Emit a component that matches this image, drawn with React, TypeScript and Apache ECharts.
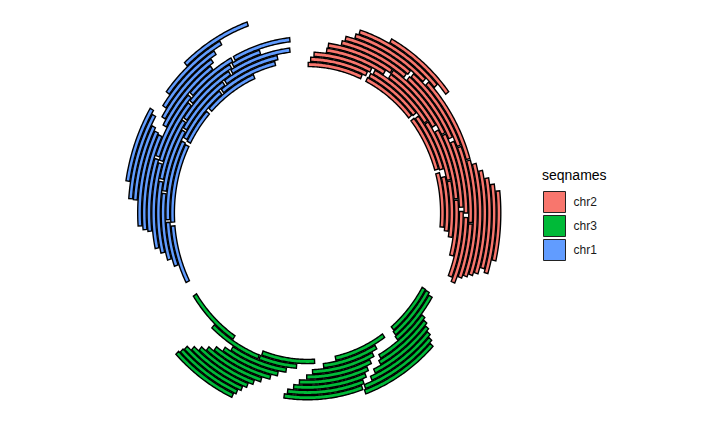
import React, { useEffect, useRef } from "react";
import * as echarts from "echarts";

// ---- data ----
const seqnames = ["chr2", "chr3", "chr1"];
const seqColors = ["#F8766D", "#00BA38", "#619CFF"];
const seqLengths = [117, 117, 117]; // chromosome lengths (Mb)
const chromGap = 3; // gap between chromosomes (Mb)
const legendTitle = "seqnames";

// chr2 ranges (Mb) and stacking levels
const chr2Starts = [0.3, 26, 51, 74.5, 1.3, 26.5, 51.5, 76.5, 2.6, 27.5, 55.5, 78.5, 7.4, 33.5, 60, 85.5, 7.8, 33.5, 62.5, 89.5, 12.5, 39.5, 66, 91.5, 13.5, 40, 68.5, 93.5, 16.6, 45.5, 73.5, 17.6, 75, 28, 77.5, 80, 82, 84];
const chr2Ends = [23.5, 49.5, 73, 95.4, 25, 50, 73.5, 96.7, 26, 55, 78, 98.7, 31, 58, 85, 105, 33, 62, 88, 112, 38, 64.5, 90, 113.4, 38.5, 68, 93, 111, 44, 73, 110, 48, 109, 52, 108, 106, 107, 103];
const chr2Levels = [1, 1, 1, 1, 2, 2, 2, 2, 3, 3, 3, 3, 4, 4, 4, 4, 5, 5, 5, 5, 6, 6, 6, 6, 7, 7, 7, 7, 8, 8, 8, 9, 9, 10, 10, 11, 12, 13];

// chr3
const chr3Starts = [0.5, 25.7, 57, 93, 0.7, 30.7, 64.5, 80.5, 1.6, 33, 68.5, 9, 35, 71.5, 10, 37, 74, 11, 38.5, 77, 12, 40, 79.3, 13, 41, 81, 14, 82.4, 83.5, 84.3];
const chr3Ends = [21, 48, 79.5, 116.5, 21.5, 53.4, 80, 102.5, 22, 58, 91.5, 31, 60.3, 94, 32, 63, 96.8, 35, 65, 99, 37, 67, 101, 40, 68, 103, 40.5, 104.8, 105.2, 105.7];
const chr3Levels = [1, 1, 1, 1, 2, 2, 2, 2, 3, 3, 3, 4, 4, 4, 5, 5, 5, 6, 6, 6, 7, 7, 7, 8, 8, 8, 9, 9, 10, 11];

// chr1
const chr1Starts = [2.5, 26.5, 58.5, 74, 10, 27.5, 59, 82.5, 13, 38, 62, 85.5, 16, 42, 65, 89.5, 18, 48, 71, 91, 24, 49, 73, 92.5, 24.7, 59, 26, 61, 34, 64, 34.2, 68, 39.2, 78];
const chr1Ends = [25, 57, 72.5, 96.7, 26.5, 57.5, 81.5, 106.6, 37, 61, 84.5, 108, 41, 64, 88.5, 113.2, 47, 70, 90, 102, 48, 72, 91.5, 113.6, 55.5, 84, 56, 85.4, 57, 87.6, 60, 90.7, 61.2, 100.8];
const chr1Levels = [1, 1, 1, 1, 2, 2, 2, 2, 3, 3, 3, 3, 4, 4, 4, 4, 5, 5, 5, 5, 6, 6, 6, 6, 7, 7, 8, 8, 9, 9, 10, 10, 11, 11];

const tracks = [
  { starts: chr2Starts, ends: chr2Ends, levels: chr2Levels },
  { starts: chr3Starts, ends: chr3Ends, levels: chr3Levels },
  { starts: chr1Starts, ends: chr1Ends, levels: chr1Levels },
];

// layout constants (in circle units)
const INNER = 135;
const STEP = 4.7;
const HALF = 1.9;

export default function App() {
  const ref = useRef<HTMLDivElement>(null);
  useEffect(() => {
    if (!ref.current) return;
    const chart = echarts.init(ref.current, null, { renderer: "svg" });
    const offsets: number[] = [];
    let acc = 0;
    seqLengths.forEach((l) => {
      offsets.push(acc);
      acc += l + chromGap;
    });
    const degPerUnit = 360 / acc;

    const series = seqnames.map((name, i) => ({
      type: "custom",
      name,
      coordinateSystem: "cartesian2d",
      itemStyle: { color: seqColors[i], borderColor: "#000", borderWidth: 1 },
      data: tracks[i].starts.map((s, j) => [s, tracks[i].ends[j], tracks[i].levels[j]]),
      renderItem: (params: any, api: any) => {
        const s = api.value(0);
        const e = api.value(1);
        const lv = api.value(2);
        const a0 = (offsets[i] + s) * degPerUnit;
        const a1 = (offsets[i] + e) * degPerUnit;
        const rc = INNER + (lv - 1) * STEP;
        const rIn = rc - HALF;
        const rOut = rc + HALF;
        const n = Math.max(2, Math.ceil((a1 - a0) / 0.5));
        const pts: number[][] = [];
        for (let k = 0; k <= n; k++) {
          const t = ((a0 + ((a1 - a0) * k) / n) * Math.PI) / 180;
          pts.push(api.coord([rOut * Math.sin(t), rOut * Math.cos(t)]));
        }
        for (let k = n; k >= 0; k--) {
          const t = ((a0 + ((a1 - a0) * k) / n) * Math.PI) / 180;
          pts.push(api.coord([rIn * Math.sin(t), rIn * Math.cos(t)]));
        }
        return {
          type: "polygon",
          shape: { points: pts },
          style: { fill: seqColors[i], stroke: "#000", lineWidth: 1.4 },
        };
      },
    }));

    chart.setOption({
      animation: false,
      backgroundColor: "#ffffff",
      grid: { left: 107.5, top: 4, width: 400, height: 418 },
      xAxis: { type: "value", min: -200, max: 200, show: false },
      yAxis: { type: "value", min: -190, max: 190, show: false },
      legend: {
        orient: "vertical",
        left: 543,
        top: 191,
        padding: 0,
        itemWidth: 22,
        itemHeight: 21,
        itemGap: 2,
        icon: "rect",
        selectedMode: false,
        data: seqnames,
        itemStyle: { borderColor: "#222", borderWidth: 1 },
        textStyle: {
          fontFamily: "Liberation Sans, Arial, sans-serif",
          fontSize: 12,
          color: "#1a1a1a",
          padding: [0, 0, 0, 3],
        },
      },
      graphic: [
        {
          type: "text",
          left: 542,
          top: 168,
          style: {
            text: legendTitle,
            fontFamily: "Liberation Sans, Arial, sans-serif",
            fontSize: 14,
            fill: "#000",
          },
        },
      ],
      series,
    });
    return () => chart.dispose();
  }, []);
  return (
    <div
      ref={ref}
      style={{ position: "absolute", left: 0, top: 0, width: 720, height: 432 }}
    />
  );
}
